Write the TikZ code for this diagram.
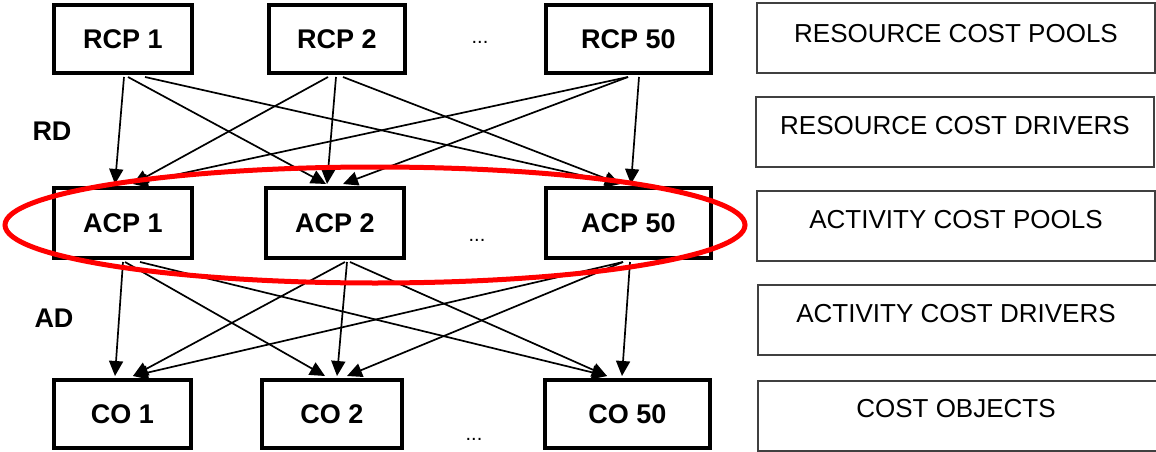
\documentclass[tikz,border=0pt]{standalone}
\usepackage{fontspec}
\setmainfont{Liberation Sans}
\usetikzlibrary{arrows.meta}
\begin{document}
\begin{tikzpicture}[x=1pt,y=-1pt,
  bigbox/.style={draw=black, line width=4pt, inner sep=0pt, minimum height=68pt,
    font=\fontsize{27}{32}\selectfont\bfseries},
  sidebox/.style={draw=black!75, line width=1.3pt, inner sep=0pt, minimum width=398pt, minimum height=70pt},
  sidetext/.style={inner sep=0pt, font=\fontsize{26}{31}\selectfont},
  lbl/.style={inner sep=0pt, font=\fontsize{27}{32}\selectfont\bfseries},
  dots/.style={inner sep=0pt, font=\fontsize{20}{24}\selectfont},
  edge/.style={line width=1.7pt, -{Triangle[length=15pt,width=14pt]}},
  ring/.style={draw=red, line width=5pt}]
\useasboundingbox (0,0) rectangle (1156,452);

% left column boxes
\node[bigbox, minimum width=138pt] (rcp1) at (123,39) {RCP 1};
\node[bigbox, minimum width=136pt] (rcp2) at (337,39) {RCP 2};
\node[bigbox, minimum width=165pt] (rcp50) at (628.5,39) {RCP 50};
\node[bigbox, minimum width=138pt, minimum height=70pt] (acp1) at (123,223) {ACP 1};
\node[bigbox, minimum width=138pt, minimum height=70pt] (acp2) at (335,223) {ACP 2};
\node[bigbox, minimum width=165pt, minimum height=70pt] (acp50) at (628.5,223) {ACP 50};
\node[bigbox, minimum width=137pt] (co1) at (122.5,414) {CO 1};
\node[bigbox, minimum width=140pt] (co2) at (332,414) {CO 2};
\node[bigbox, minimum width=165pt] (co50) at (627.5,414) {CO 50};

\node[dots] (d1) at (480,42) {...};
\node[dots] (d2) at (477,240) {...};
\node[dots] (d3) at (474,439) {...};

\node[lbl] (rd) at (52,131.5) {RD};
\node[lbl] (ad) at (54,318) {AD};

% right column
\node[sidebox] (b1) at (956,38) {};
\node[sidebox] (b2) at (955,132) {};
\node[sidebox] (b3) at (956,226) {};
\node[sidebox, minimum width=402pt] (b4) at (959,320) {};
\node[sidebox, minimum width=402pt] (b5) at (959,416) {};
\node[sidetext] (t1) at (956,34) {RESOURCE COST POOLS};
\node[sidetext] (t2) at (955,126) {RESOURCE COST DRIVERS};
\node[sidetext] (t3) at (956,220) {ACTIVITY COST POOLS};
\node[sidetext] (t4) at (956,314) {ACTIVITY COST DRIVERS};
\node[sidetext] (t5) at (956,409) {COST OBJECTS};

% resource drivers
\draw[edge] ([xshift=1pt,yshift=-2pt]rcp1.south) -- ([xshift=-8pt,yshift=2pt]acp1.north);
\draw[edge] ([xshift=5pt,yshift=-2pt]rcp1.south) -- ([xshift=-9pt,yshift=2pt]acp2.north);
\draw[edge] ([xshift=22pt,yshift=-2pt]rcp1.south) -- ([xshift=-8.5pt,yshift=2pt]acp50.north);
\draw[edge] ([xshift=-9pt,yshift=-2pt]rcp2.south) -- ([xshift=10pt,yshift=2pt]acp1.north);
\draw[edge] ([xshift=-1pt,yshift=-2pt]rcp2.south) -- ([xshift=-8pt,yshift=2pt]acp2.north);
\draw[edge] ([xshift=6pt,yshift=-2pt]rcp2.south) -- ([xshift=-8.5pt,yshift=2pt]acp50.north);
\draw[edge] ([xshift=-0.5pt,yshift=-2pt]rcp50.south) -- ([xshift=10pt,yshift=2pt]acp1.north);
\draw[edge] ([xshift=-0.5pt,yshift=-2pt]rcp50.south) -- ([xshift=8pt,yshift=2pt]acp2.north);
\draw[edge] ([xshift=10.5pt,yshift=-2pt]rcp50.south) -- ([xshift=2.5pt,yshift=2pt]acp50.north);

% activity drivers
\draw[edge] ([xshift=0pt,yshift=-2pt]acp1.south) -- ([xshift=-7.5pt,yshift=2pt]co1.north);
\draw[edge] ([xshift=2pt,yshift=-2pt]acp1.south) -- ([xshift=-7pt,yshift=2pt]co2.north);
\draw[edge] ([xshift=17pt,yshift=-2pt]acp1.south) -- ([xshift=-20.5pt,yshift=2pt]co50.north);
\draw[edge] ([xshift=10pt,yshift=-2pt]acp2.south) -- ([xshift=10.5pt,yshift=2pt]co1.north);
\draw[edge] ([xshift=12pt,yshift=-2pt]acp2.south) -- ([xshift=5pt,yshift=2pt]co2.north);
\draw[edge] ([xshift=15pt,yshift=-2pt]acp2.south) -- ([xshift=-20.5pt,yshift=2pt]co50.north);
\draw[edge] ([xshift=-5.5pt,yshift=-2pt]acp50.south) -- ([xshift=10.5pt,yshift=2pt]co1.north);
\draw[edge] ([xshift=-5.5pt,yshift=-2pt]acp50.south) -- ([xshift=15pt,yshift=2pt]co2.north);
\draw[edge] ([xshift=1.5pt,yshift=-2pt]acp50.south) -- ([xshift=-5.5pt,yshift=2pt]co50.north);

% highlight
\draw[ring] (375,225) ellipse [x radius=370pt, y radius=58pt];
\end{tikzpicture}
\end{document}
